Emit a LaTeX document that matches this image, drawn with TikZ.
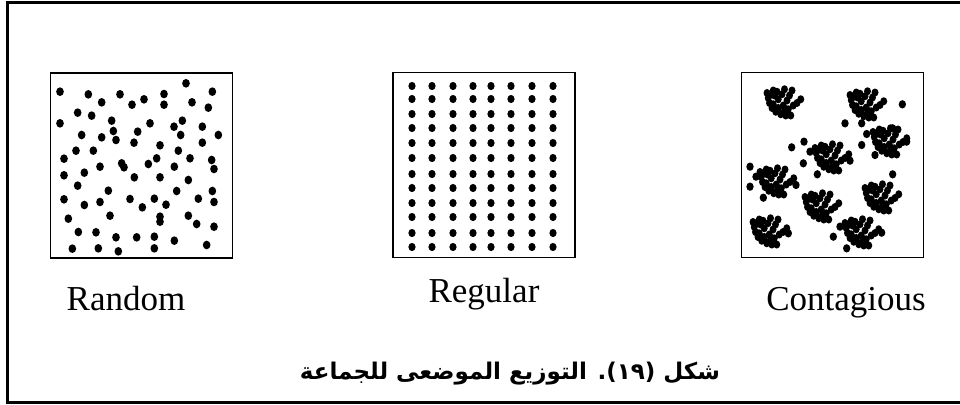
\documentclass[tikz,border=0pt]{standalone}
\usepackage{fontspec}
\setmainfont{Liberation Serif}
\newfontfamily\arabicfont[Script=Arabic]{DejaVu Sans}
\TeXXeTstate=1
\usetikzlibrary{positioning}

\begin{document}
\begin{tikzpicture}[x=1pt, y=-1pt,
    panel/.style={draw, line width=1.6pt, minimum width=182pt,
                  minimum height=185pt, inner sep=0pt},
    spot/.style={fill=black},
    tag/.style={font=\fontsize{35}{40}\selectfont, anchor=base},
    clump/.pic={
      \foreach \u/\v in {-12/-8, -11/-4, -10/0, -8/4, -5/7, -1/9, 3/10, 7/10,
                      -7/-10, -4/-9, -9/-7, -6/-6, -7/1, -3/4, 2/6,
                      -3/-3, 0/-7, 2/-11, 1/2, 4/-2, 6/-6,
                      8/-10, 5/5, 9/2, 12/0, 15/-3}
        \fill[spot] (\u,\v) ellipse[x radius=2.8, y radius=3.2];
    },
  ]
  \useasboundingbox (0,0) rectangle (960,404);
  % outer frame, right side runs off the page
  \draw[line width=3pt] (975,3) -- (7,3) -- (7,402) -- (975,402);

  % the three panels
  \node[panel] (random) at (141.5,165.5) {};
  \node[panel] (regular) at (484,165) {};
  \node[panel] (contagious) at (832.5,165) {};

  % random pattern (read off at 3x)
  \begin{scope}[shift={(40,70)}, scale=1/3]
    \foreach \u/\v in {438/40, 60/65, 145/73, 240/73, 372/72, 517/65, 185/97,
                    276/104, 312/88, 372/104, 456/97, 505/113, 113/128,
                    155/137, 60/160, 215/152, 330/160, 402/170, 427/152,
                    487/170, 220/183, 293/185, 125/195, 185/202, 228/210,
                    422/195, 535/195, 282/218, 360/226, 487/218, 108/242,
                    160/242, 415/242, 72/266, 350/265, 450/265, 245/280,
                    325/282, 515/270, 180/290, 252/292, 403/290, 522/297,
                    133/308, 72/316, 283/322, 360/322, 445/330, 113/347,
                    205/362, 410/363, 517/363, 72/388, 270/387, 343/386,
                    133/405, 180/396, 307/412, 378/404, 475/386, 522/396,
                    85/446, 210/437, 360/440, 360/455, 445/437, 470/462,
                    522/470, 115/486, 168/487, 228/502, 290/502, 343/500,
                    403/512, 500/525, 97/536, 175/535, 235/544, 343/535}
      \fill[spot] (\u,\v) ellipse[x radius=11.5, y radius=13];
  \end{scope}

  % regular grid
  \foreach \x in {412,432,453,473,491,511,532,553}
    \foreach \y in {86,99,114,128,143,158,174,188,203,217,233,247}
      \fill[spot] (\x,\y) ellipse[x radius=3.6, y radius=4.1];

  % contagious: clumps plus a few strays
  \foreach \u/\v in {782/103, 865/105, 888/142, 830/158, 775/182,
                  820/207, 880/198, 768/232, 860/233}
    \pic[scale=1.25] at (\u,\v) {clump};
  \begin{scope}[shift={(730,70)}, scale=1/3]
    \foreach \u/\v in {517/103, 345/160, 395/160, 410/192, 395/225, 435/255,
                    488/175, 530/215, 185/232, 222/215, 240/245, 220/280,
                    262/313, 360/272, 60/290, 60/350, 78/320, 100/383,
                    198/345, 488/313, 330/470, 310/500, 350/535, 175/490,
                    455/488}
      \fill[spot] (\u,\v) ellipse[x radius=11, y radius=12.5];
  \end{scope}

  % labels
  \node[tag] (randomtag) at (126,310) {Random};
  \node[tag] (regulartag) at (484,302) {Regular};
  \node[tag] (contagioustag) at (846,310) {Contagious};

  \node[font=\fontsize{23}{27}\selectfont] (caption) at (510,374)
    {\arabicfont\bfseries\beginR شكل (١٩). التوزيع الموضعى للجماعة\endR};
\end{tikzpicture}
\end{document}
